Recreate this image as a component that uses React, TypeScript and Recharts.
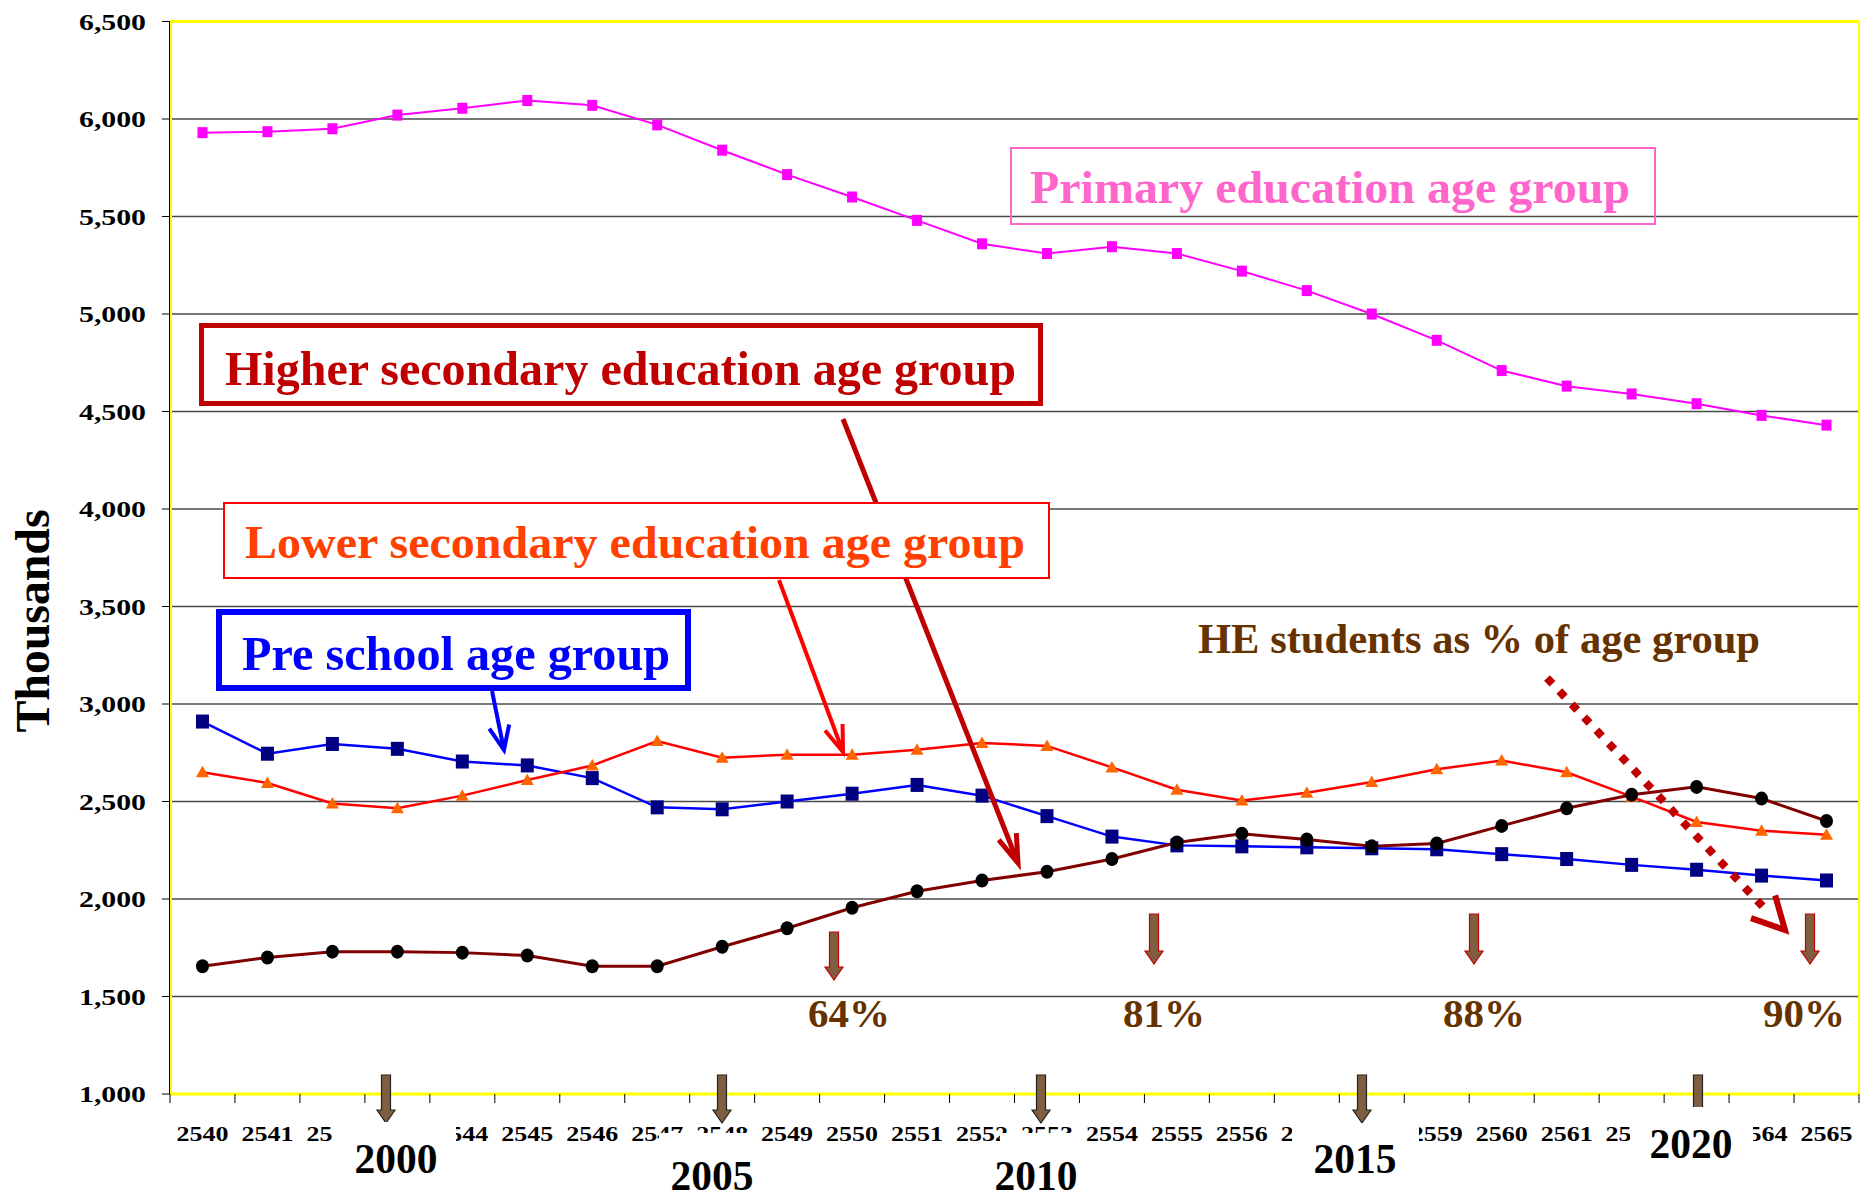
import React from 'react';
import { LineChart, Line, XAxis, YAxis, CartesianGrid } from 'recharts';

// Thai Buddhist-era years on the category axis
const years = [
  '2540', '2541', '2542', '2543', '2544', '2545', '2546', '2547', '2548', '2549',
  '2550', '2551', '2552', '2553', '2554', '2555', '2556', '2557', '2558', '2559',
  '2560', '2561', '2562', '2563', '2564', '2565',
];

// thousands of people per age group
const primary = [
  5930, 5935, 5950, 6020, 6055, 6095, 6070, 5970, 5840, 5715,
  5600, 5480, 5360, 5310, 5345, 5310, 5220, 5120, 5000, 4865,
  4710, 4630, 4590, 4540, 4480, 4430,
];
const preSchool = [
  2910, 2745, 2795, 2770, 2705, 2685, 2620, 2470, 2460, 2500,
  2540, 2585, 2530, 2425, 2320, 2275, 2270, 2265, 2260, 2255,
  2230, 2205, 2175, 2150, 2120, 2095,
];
const lowerSec = [
  2650, 2595, 2490, 2465, 2530, 2610, 2685, 2810, 2725, 2740,
  2740, 2765, 2800, 2785, 2675, 2560, 2505, 2545, 2600, 2665,
  2710, 2650, 2525, 2395, 2350, 2330,
];
const higherSec = [
  1655, 1700, 1730, 1730, 1725, 1710, 1655, 1655, 1755, 1850,
  1955, 2040, 2095, 2140, 2205, 2290, 2335, 2305, 2270, 2285,
  2375, 2465, 2535, 2575, 2515, 2400,
];
const yTicks = [1000, 1500, 2000, 2500, 3000, 3500, 4000, 4500, 5000, 5500, 6000, 6500];

const heShares = ['64%', '81%', '88%', '90%'];
const ceYears = ['2000', '2005', '2010', '2015', '2020'];

const data = years.map((year, i) => ({
  year,
  primary: primary[i],
  preSchool: preSchool[i],
  lowerSec: lowerSec[i],
  higherSec: higherSec[i],
}));

const W = 1861;
const H = 1196;
const PLOT_LEFT = 170;
const PLOT_RIGHT = 1859;
const PLOT_TOP = 21.5;
const PLOT_BOTTOM = 1094;
const BAND = (PLOT_RIGHT - PLOT_LEFT) / years.length;
const SERIF = '"Liberation Serif", "Times New Roman", serif';

// annotation placement (pixels)
const shareMarks = [
  { top: 932, tip: 980, ax: 834, cx: 849 },
  { top: 914, tip: 964, ax: 1154, cx: 1164 },
  { top: 914, tip: 964, ax: 1474, cx: 1484 },
  { top: 914, tip: 964, ax: 1810, cx: 1804 },
];
const yearMarks = [
  { ax: 386, cx: 396, base: 1173, box: [332, 1122, 124] },
  { ax: 722, cx: 712, base: 1190, box: [659, 1133, 100] },
  { ax: 1041, cx: 1036, base: 1190, box: [1000, 1133, 80] },
  { ax: 1362, cx: 1355, base: 1173, box: [1292, 1123, 127] },
  { ax: 1698, cx: 1691, base: 1158, box: [1630, 1107, 123] },
];

const XTick = (props: any) => {
  const { x, y, payload, index } = props;
  const half = BAND / 2;
  const i = index ?? payload.index;
  return (
    <g>
      <line x1={x - half} x2={x - half} y1={y} y2={y + 9} stroke="#000" strokeWidth={1} />
      {i === years.length - 1 && (
        <line x1={x + half} x2={x + half} y1={y} y2={y + 9} stroke="#000" strokeWidth={1} />
      )}
      <text
        x={x}
        y={y + 47}
        textAnchor="middle"
        fontFamily={SERIF}
        fontWeight="bold"
        fontSize={22}
        textLength={52}
        lengthAdjust="spacingAndGlyphs"
        fill="#000"
      >
        {payload.value}
      </text>
    </g>
  );
};

const YTick = (props: any) => {
  const { x, y, payload } = props;
  const label = Number(payload.value).toLocaleString('en-US');
  return (
    <text
      x={x}
      y={y}
      dy={8}
      textAnchor="end"
      fontFamily={SERIF}
      fontWeight="bold"
      fontSize={24}
      textLength={label.length > 4 ? 67 : 54}
      lengthAdjust="spacingAndGlyphs"
      fill="#000"
    >
      {label}
    </text>
  );
};

const squareDot = (w: number, h: number, fill: string) => (p: any) => (
  <rect key={`s${p.index}`} x={p.cx - w / 2} y={p.cy - h / 2} width={w} height={h} fill={fill} />
);
const triangleDot = (p: any) => (
  <path
    key={`t${p.index}`}
    d={`M${p.cx},${p.cy - 6.5} L${p.cx + 6.5},${p.cy + 5} L${p.cx - 6.5},${p.cy + 5} Z`}
    fill="#FF6600"
  />
);
const circleDot = (p: any) => (
  <ellipse key={`c${p.index}`} cx={p.cx} cy={p.cy} rx={6.5} ry={7} fill="#000" />
);

function OpenArrow({ x1, y1, x2, y2, color, width, head = 28, spread = 0.38, dashed = false, lineEnd = 1 }: any) {
  const ang = Math.atan2(y2 - y1, x2 - x1);
  const a1 = ang + Math.PI - spread;
  const a2 = ang + Math.PI + spread;
  const p1 = [x2 + head * Math.cos(a1), y2 + head * Math.sin(a1)];
  const p2 = [x2 + head * Math.cos(a2), y2 + head * Math.sin(a2)];
  const ex = x1 + (x2 - x1) * lineEnd;
  const ey = y1 + (y2 - y1) * lineEnd;
  return (
    <g>
      <line
        x1={x1}
        y1={y1}
        x2={ex}
        y2={ey}
        stroke={color}
        strokeWidth={width}
        strokeDasharray={dashed ? `${width} ${width + 2}` : undefined}
      />
      <polyline
        points={`${p1[0]},${p1[1]} ${x2},${y2} ${p2[0]},${p2[1]}`}
        fill="none"
        stroke={color}
        strokeWidth={dashed ? 6 : width}
        strokeLinejoin="miter"
      />
    </g>
  );
}

function BlockArrow({ x, top, tip, stroke }: { x: number; top: number; tip: number; stroke: string }) {
  const hs = tip - 13;
  return (
    <path
      d={`M${x - 4.5},${top} L${x + 4.5},${top} L${x + 4.5},${hs} L${x + 9},${hs} L${x},${tip} L${x - 9},${hs} L${x - 4.5},${hs} Z`}
      fill="#7F5F3F"
      stroke={stroke}
      strokeWidth={1.2}
    />
  );
}

function BoxText({ x, y, text, size, len, color }: any) {
  return (
    <text
      x={x}
      y={y}
      fontFamily={SERIF}
      fontWeight="bold"
      fontSize={size}
      textLength={len}
      lengthAdjust="spacingAndGlyphs"
      fill={color}
    >
      {text}
    </text>
  );
}

function Overlay() {
  return (
    <svg width={W} height={H} style={{ position: 'absolute', left: 0, top: 0, pointerEvents: 'none' }}>
      {/* plot frame */}
      <line x1={PLOT_LEFT} x2={PLOT_RIGHT} y1={PLOT_TOP} y2={PLOT_TOP} stroke="#FFFF00" strokeWidth={3} />
      <line x1={PLOT_RIGHT} x2={PLOT_RIGHT} y1={PLOT_TOP} y2={PLOT_BOTTOM} stroke="#FFFF00" strokeWidth={2} />
      <line x1={PLOT_LEFT + 1} x2={PLOT_LEFT + 1} y1={PLOT_TOP} y2={PLOT_BOTTOM} stroke="#FFFF00" strokeWidth={2} />
      <line x1={PLOT_LEFT - 0.5} x2={PLOT_LEFT - 0.5} y1={PLOT_TOP} y2={PLOT_BOTTOM} stroke="#000" strokeWidth={1} />

      {/* higher secondary callout */}
      <OpenArrow x1={843} y1={419} x2={1018} y2={863} color="#C00000" width={5} head={30} spread={0.32} />
      <rect x={201.5} y={325.5} width={839} height={78} fill="#fff" stroke="#C00000" strokeWidth={5} />
      <BoxText x={225} y={385} text="Higher secondary education age group" size={48} len={791} color="#C00000" />

      {/* lower secondary callout */}
      <rect x={224} y={503} width={825} height={75} fill="#fff" stroke="#FF0000" strokeWidth={2} />
      <BoxText x={245} y={558} text="Lower secondary education age group" size={46} len={780} color="#FF4000" />
      <OpenArrow x1={779} y1={580} x2={843} y2={752} color="#FF0000" width={4} head={28} spread={0.34} />

      {/* pre school callout */}
      <rect x={219} y={612} width={469} height={76} fill="#fff" stroke="#0000FF" strokeWidth={6} />
      <BoxText x={242} y={670} text="Pre school age group" size={48} len={428} color="#0000FF" />
      <OpenArrow x1={492} y1={691} x2={504} y2={750} color="#0000FF" width={4} head={26} spread={0.4} />

      {/* primary callout */}
      <rect x={1011} y={148} width={644} height={76} fill="none" stroke="#FF66CC" strokeWidth={2} />
      <BoxText x={1030} y={203} text="Primary education age group" size={47} len={600} color="#FF66CC" />

      {/* HE share notes */}
      <BoxText x={1198} y={653} text="HE students as % of age group" size={42} len={562} color="#663300" />
      <OpenArrow x1={1547} y1={678} x2={1785} y2={930} color="#C00000" width={8} head={36} spread={0.48} dashed lineEnd={0.93} />
      {shareMarks.map((m, i) => (
        <g key={heShares[i]}>
          <BlockArrow x={m.ax} top={m.top} tip={m.tip} stroke="#C00000" />
          <text
            x={m.cx}
            y={1027}
            textAnchor="middle"
            fontFamily={SERIF}
            fontWeight="bold"
            fontSize={40}
            textLength={82}
            lengthAdjust="spacingAndGlyphs"
            fill="#663300"
          >
            {heShares[i]}
          </text>
        </g>
      ))}

      {/* CE year markers under the axis */}
      {yearMarks.map((m) => (
        <BlockArrow key={`a${m.ax}`} x={m.ax} top={1075} tip={1123} stroke="#222" />
      ))}
      {yearMarks.map((m, i) => (
        <g key={ceYears[i]}>
          <rect x={m.box[0]} y={m.box[1]} width={m.box[2]} height={H - m.box[1]} fill="#fff" />
          <text
            x={m.cx}
            y={m.base}
            textAnchor="middle"
            fontFamily={SERIF}
            fontWeight="bold"
            fontSize={43}
            textLength={83}
            lengthAdjust="spacingAndGlyphs"
            fill="#000"
          >
            {ceYears[i]}
          </text>
        </g>
      ))}

      {/* axis title */}
      <text
        x={0}
        y={0}
        transform="translate(49,621) rotate(-90)"
        textAnchor="middle"
        fontFamily={SERIF}
        fontWeight="bold"
        fontSize={48}
        textLength={223}
        lengthAdjust="spacingAndGlyphs"
        fill="#000"
      >
        Thousands
      </text>
    </svg>
  );
}

export default function App() {
  return (
    <div style={{ position: 'absolute', left: 0, top: 0, width: W, height: H, background: '#fff' }}>
      <LineChart
        width={W}
        height={H}
        data={data}
        margin={{ top: PLOT_TOP, right: W - PLOT_RIGHT, bottom: 0, left: 0 }}
      >
        <CartesianGrid vertical={false} stroke="#4a4a4a" strokeWidth={1.5} />
        <XAxis
          dataKey="year"
          interval={0}
          height={H - PLOT_BOTTOM}
          padding={{ left: BAND / 2, right: BAND / 2 }}
          axisLine={{ stroke: '#FFFF00', strokeWidth: 3 }}
          tickLine={false}
          tickSize={0}
          tickMargin={0}
          tick={(p: any) => <XTick {...p} />}
        />
        <YAxis
          domain={[1000, 6500]}
          ticks={yTicks}
          interval={0}
          width={PLOT_LEFT}
          tickSize={8}
          tickMargin={16}
          axisLine={false}
          tickLine={{ stroke: '#000' }}
          tick={(p: any) => <YTick {...p} />}
        />
        <Line
          dataKey="primary"
          stroke="#FF00FF"
          strokeWidth={2}
          dot={squareDot(10, 11, '#FF00FF')}
          activeDot={false}
          isAnimationActive={false}
        />
        <Line
          dataKey="preSchool"
          stroke="#0000FF"
          strokeWidth={2.5}
          dot={squareDot(13, 14, '#000080')}
          activeDot={false}
          isAnimationActive={false}
        />
        <Line
          dataKey="lowerSec"
          stroke="#FF0000"
          strokeWidth={2.5}
          dot={triangleDot}
          activeDot={false}
          isAnimationActive={false}
        />
        <Line
          dataKey="higherSec"
          stroke="#800000"
          strokeWidth={3}
          dot={circleDot}
          activeDot={false}
          isAnimationActive={false}
        />
      </LineChart>
      <Overlay />
    </div>
  );
}
